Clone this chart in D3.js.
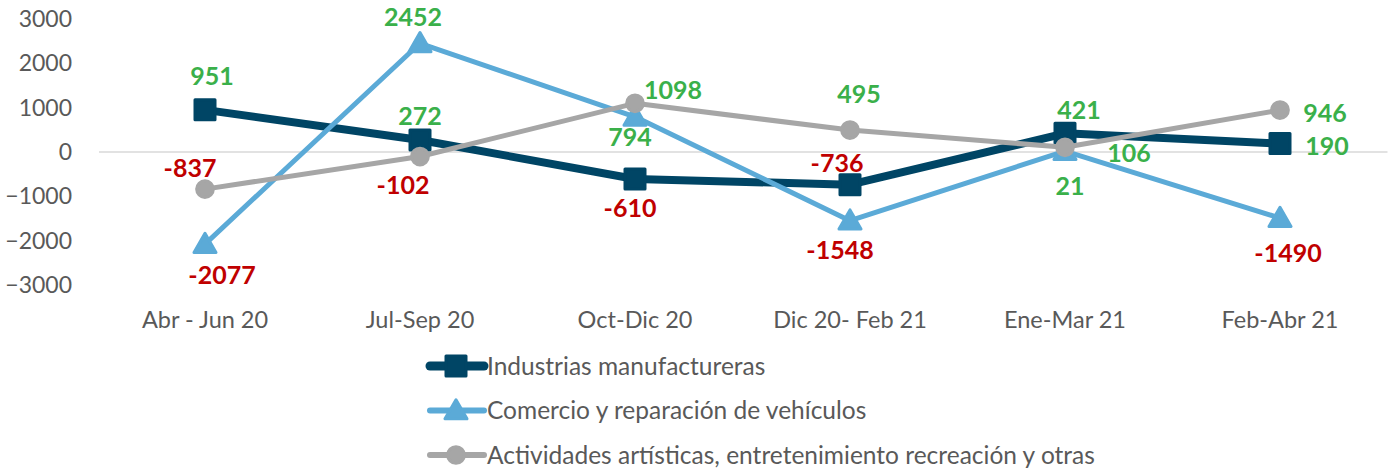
<!DOCTYPE html>
<html>
<head>
<meta charset="utf-8">
<script src="https://cdn.jsdelivr.net/npm/d3@7"></script>
<style>
  body { margin: 0; background: #fff; }
  svg { font-family: Lato, "Open Sans", sans-serif; }
</style>
</head>
<body>
<svg width="1390" height="471"></svg>
<script>
var categories = ["Abr - Jun 20", "Jul-Sep 20", "Oct-Dic 20", "Dic 20- Feb 21", "Ene-Mar 21", "Feb-Abr 21"];
var yTicks = [3000, 2000, 1000, 0, -1000, -2000, -3000];

var industrias = [951, 272, -610, -736, 421, 190];
var comercio = [-2077, 2452, 794, -1548, 21, -1490];
var actividades = [-837, -102, 1098, 495, 106, 946];

var seriesNames = ["Industrias manufactureras", "Comercio y reparación de vehículos", "Actividades artísticas, entretenimiento recreación y otras"];

// manual label nudges (dx, dy from the point), like in the original sheet
var labelNudge = [
  [[7, -34], [0, -24], [-5, 29], [-13, -22], [14, -23], [47, 2]],
  [[17, 31], [-7, -26], [-5, 20], [-10, 29], [5, 35], [8, 35]],
  [[-15, -21], [-17, 28], [38, -13], [9, -36], [64, 6], [45, 3]]
];

var colors = ["#004565", "#5BAAD7", "#A6A6A6"];
var lineWidths = [8, 5, 5];
var symbols = [d3.symbolSquare, d3.symbolTriangle, d3.symbolCircle];
var symbolSizes = [400, 210, 220];

var svg = d3.select("svg");

var x = d3.scaleBand()
  .domain(categories)
  .range([97.5, 1387.5]);

var y = d3.scaleLinear()
  .domain([-3000, 3000])
  .range([285, 19]);

// y axis labels, no line
var yAxis = svg.append("g")
  .attr("transform", "translate(72,0)")
  .call(d3.axisLeft(y).tickValues(yTicks).tickSize(0).tickPadding(0).tickFormat(d3.format("d")));
yAxis.select(".domain").remove();
yAxis.selectAll("text")
  .attr("fill", "#595959")
  .style("font-size", "23px")
  .style("font-family", "Lato, sans-serif");

// category axis at zero
svg.append("line")
  .attr("x1", 99).attr("x2", 1387.5)
  .attr("y1", y(0)).attr("y2", y(0))
  .attr("stroke", "#D9D9D9")
  .attr("stroke-width", 1.5);

var xAxis = svg.append("g")
  .attr("transform", "translate(0,320)")
  .call(d3.axisBottom(x).tickSize(0).tickPadding(0));
xAxis.select(".domain").remove();
xAxis.selectAll("text")
  .attr("fill", "#595959")
  .attr("dy", "0.35em")
  .style("font-size", "23.5px")
  .style("font-family", "Lato, sans-serif");

var allSeries = [industrias, comercio, actividades];

var line = d3.line()
  .x(function(d, i) { return x(categories[i]) + x.bandwidth() / 2; })
  .y(function(d) { return y(d); });

allSeries.forEach(function(vals, s) {
  var g = svg.append("g");
  g.append("path")
    .datum(vals)
    .attr("d", line)
    .attr("fill", "none")
    .attr("stroke", colors[s])
    .attr("stroke-width", lineWidths[s])
    .attr("stroke-linejoin", "round");

  g.selectAll(".mark")
    .data(vals)
    .enter()
    .append("path")
    .attr("class", "mark")
    .attr("d", d3.symbol().type(symbols[s]).size(symbolSizes[s]))
    .attr("transform", function(d, i) {
      var dy = s === 1 ? 2 : 0;
      return "translate(" + (x(categories[i]) + x.bandwidth() / 2) + "," + (y(d) + dy) + ")";
    })
    .attr("fill", colors[s])
    .attr("stroke", colors[s])
    .attr("stroke-width", 3)
    .attr("stroke-linejoin", "round");
});

// data labels
allSeries.forEach(function(vals, s) {
  svg.append("g").selectAll("text")
    .data(vals)
    .enter()
    .append("text")
    .attr("x", function(d, i) { return x(categories[i]) + x.bandwidth() / 2 + labelNudge[s][i][0]; })
    .attr("y", function(d, i) { return y(d) + labelNudge[s][i][1]; })
    .attr("dy", "0.36em")
    .attr("text-anchor", "middle")
    .attr("font-weight", "bold")
    .attr("font-size", "25px")
    .attr("fill", function(d) { return d < 0 ? "#C00000" : "#3AB04A"; })
    .text(function(d) { return d; });
});

// legend
var legend = svg.append("g").attr("transform", "translate(428,366)");
var rows = legend.selectAll("g")
  .data(seriesNames)
  .enter()
  .append("g")
  .attr("transform", function(d, i) { return "translate(0," + (i * 44.5) + ")"; });

rows.append("line")
  .attr("x1", 2).attr("x2", 56)
  .attr("stroke", function(d, i) { return colors[i]; })
  .attr("stroke-width", function(d, i) { return lineWidths[i] + 1; })
  .attr("stroke-linecap", "round");

rows.append("path")
  .attr("d", function(d, i) { return d3.symbol().type(symbols[i]).size(symbolSizes[i])(); })
  .attr("transform", function(d, i) { return "translate(28," + (i === 1 ? 2 : 0) + ")"; })
  .attr("fill", function(d, i) { return colors[i]; })
  .attr("stroke", function(d, i) { return colors[i]; })
  .attr("stroke-width", 3)
  .attr("stroke-linejoin", "round");

rows.append("text")
  .attr("x", 59)
  .attr("dy", "0.36em")
  .attr("fill", "#595959")
  .attr("font-size", "24.5px")
  .text(function(d) { return d; });
</script>
</body>
</html>
